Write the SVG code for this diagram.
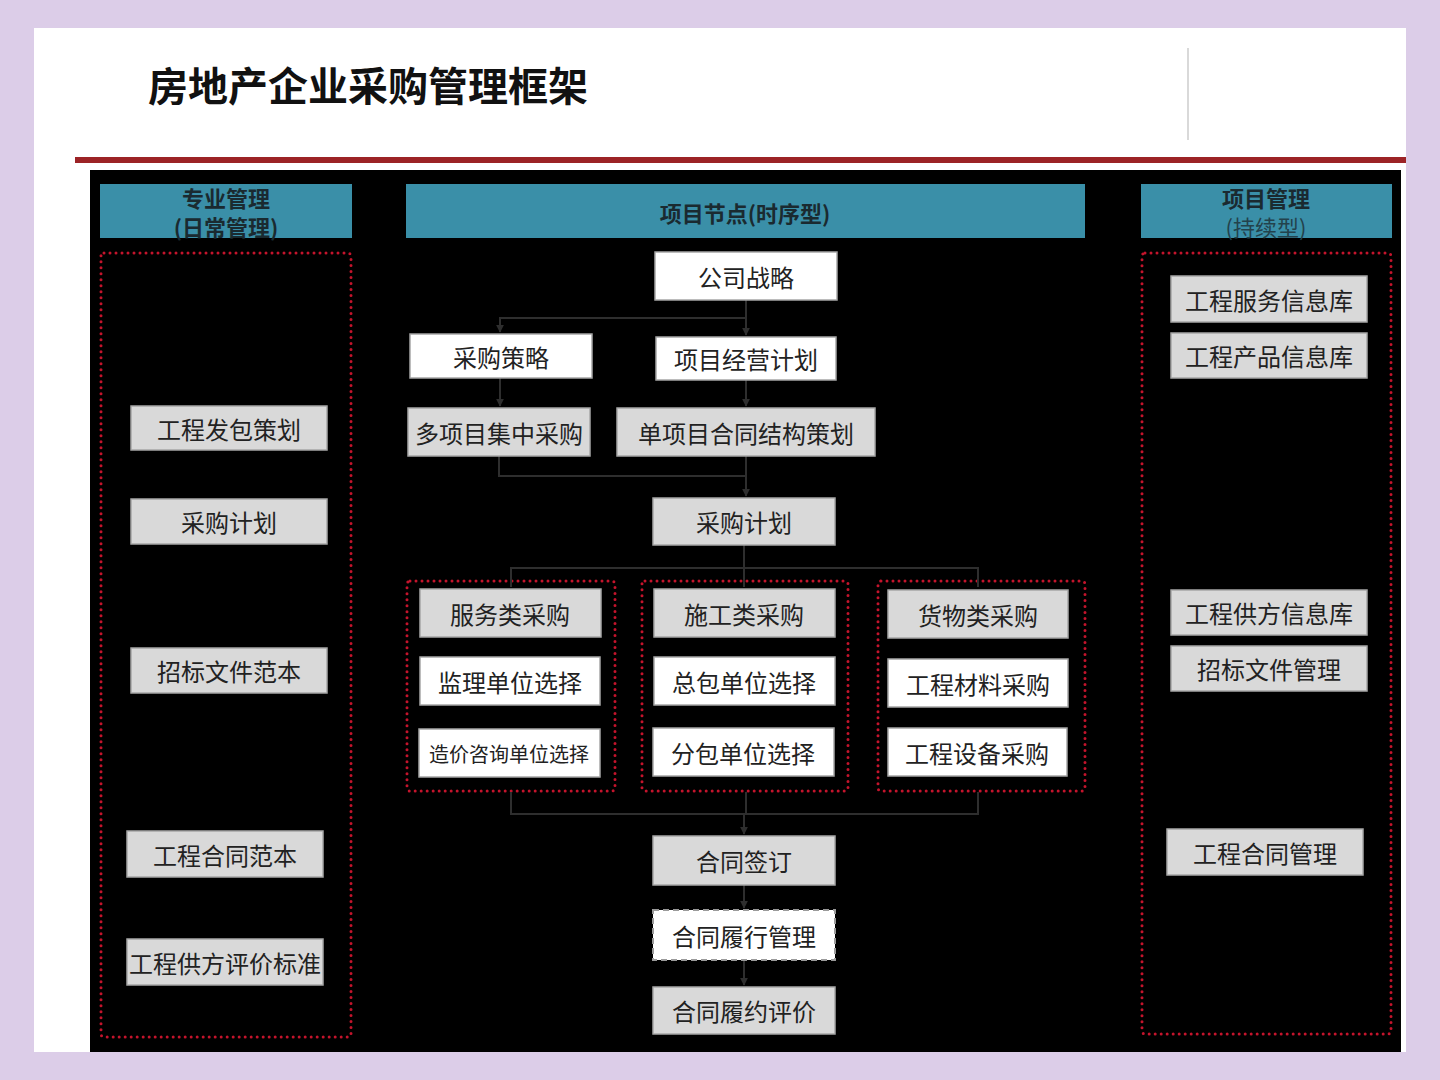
<svg xmlns="http://www.w3.org/2000/svg" width="1440" height="1080" viewBox="0 0 1440 1080">
<defs>
<marker id="arr" viewBox="0 0 10 10" refX="9" refY="5" markerWidth="4" markerHeight="4" orient="auto"><path d="M0,0 L10,5 L0,10 z" fill="#2e2e2e"/></marker>
<style>
.t{font-family:"Noto Sans CJK SC","Noto Sans",sans-serif;fill:#222;font-size:24px;text-anchor:middle;dominant-baseline:central}
.g{fill:#d9d9d9;stroke:#a6a6a6;stroke-width:1.5}
.w{fill:#ffffff;stroke:#a6a6a6;stroke-width:1.5}
.hd{fill:#3a8fa8}
.dot{fill:none;stroke:#c4142c;stroke-width:3;stroke-dasharray:0 6;stroke-linecap:round}
.c{fill:none;stroke:#2e2e2e;stroke-width:2}
.ht{font-family:"Noto Sans CJK SC","Noto Sans",sans-serif;fill:#1a2a30;font-size:22px;font-weight:bold;text-anchor:middle;dominant-baseline:central}
</style>
</defs>
<rect width="1440" height="1080" fill="#dccde8"/>
<rect x="34" y="28" width="1372" height="1024" fill="#ffffff"/>
<text x="148" y="101" font-family="'Noto Sans CJK SC','Noto Sans',sans-serif" font-size="40" font-weight="bold" fill="#111">房地产企业采购管理框架</text>
<line x1="1188" y1="48" x2="1188" y2="140" stroke="#cccccc" stroke-width="1.5"/>
<rect x="75" y="157" width="1331" height="6" fill="#9c2326"/>
<rect x="90" y="170" width="1311" height="882" fill="#000000"/>

<g id="hdr-left"><rect class="hd" x="100" y="184" width="252" height="54"/><text class="ht" x="226" y="197">专业管理</text><text class="ht" x="226" y="226">(日常管理)</text></g>
<g id="hdr-mid"><rect class="hd" x="406" y="184" width="679" height="54"/><text class="ht" x="745" y="212">项目节点(时序型)</text></g>
<g id="hdr-right"><rect class="hd" x="1141" y="184" width="251" height="54"/><text class="ht" x="1266" y="197">项目管理</text><text class="ht" x="1266" y="226" style="font-weight:normal;fill:#23424c">(持续型)</text></g>

<rect class="dot" x="101" y="253" width="250" height="784" rx="3"/>
<rect class="dot" x="1142" y="253" width="249" height="781" rx="3"/>
<rect class="dot" x="407" y="581" width="208" height="210" rx="3"/>
<rect class="dot" x="642" y="581" width="206" height="210" rx="3"/>
<rect class="dot" x="878" y="581" width="207" height="210" rx="3"/>

<g id="connectors">
<path class="c" d="M746,300 V335" marker-end="url(#arr)"/>
<path class="c" d="M746,318 H500 V332" marker-end="url(#arr)"/>
<path class="c" d="M500,378 V406" marker-end="url(#arr)"/>
<path class="c" d="M746,380 V406" marker-end="url(#arr)"/>
<path class="c" d="M499,456 V476 H746"/>
<path class="c" d="M746,456 V496" marker-end="url(#arr)"/>
<path class="c" d="M744,545 V568"/>
<path class="c" d="M511,587 V568 H978 V587"/>
<path class="c" d="M744,568 V587"/>
<path class="c" d="M511,792 V814 H978 V792"/>
<path class="c" d="M746,792 V814"/>
<path class="c" d="M744,814 V834" marker-end="url(#arr)"/>
<path class="c" d="M744,885 V908" marker-end="url(#arr)"/>
<path class="c" d="M744,960 V985" marker-end="url(#arr)"/>
</g>

<g id="l1"><rect class="g" x="131" y="406" width="196" height="44"/><text class="t" x="229" y="428">工程发包策划</text></g>
<g id="l2"><rect class="g" x="131" y="499" width="196" height="45"/><text class="t" x="229" y="521">采购计划</text></g>
<g id="l3"><rect class="g" x="131" y="648" width="196" height="45"/><text class="t" x="229" y="670">招标文件范本</text></g>
<g id="l4"><rect class="g" x="127" y="831" width="196" height="46"/><text class="t" x="225" y="854">工程合同范本</text></g>
<g id="l5"><rect class="g" x="127" y="939" width="196" height="46"/><text class="t" x="225" y="962">工程供方评价标准</text></g>

<g id="m1"><rect class="w" x="655" y="252" width="182" height="48"/><text class="t" x="746" y="276">公司战略</text></g>
<g id="m2"><rect class="w" x="410" y="334" width="182" height="44"/><text class="t" x="501" y="356">采购策略</text></g>
<g id="m3"><rect class="w" x="656" y="337" width="180" height="43"/><text class="t" x="746" y="358">项目经营计划</text></g>
<g id="m4"><rect class="g" x="408" y="408" width="182" height="48"/><text class="t" x="499" y="432">多项目集中采购</text></g>
<g id="m5"><rect class="g" x="617" y="408" width="258" height="48"/><text class="t" x="746" y="432">单项目合同结构策划</text></g>
<g id="m6"><rect class="g" x="653" y="498" width="182" height="47"/><text class="t" x="744" y="521">采购计划</text></g>

<g id="s1"><rect class="g" x="420" y="589" width="181" height="48"/><text class="t" x="510" y="613">服务类采购</text></g>
<g id="s2"><rect class="w" x="420" y="657" width="180" height="48"/><text class="t" x="510" y="681">监理单位选择</text></g>
<g id="s3"><rect class="w" x="419" y="729" width="181" height="48"/><text class="t" x="509" y="753" style="font-size:20px">造价咨询单位选择</text></g>
<g id="c1"><rect class="g" x="654" y="589" width="181" height="48"/><text class="t" x="744" y="613">施工类采购</text></g>
<g id="c2"><rect class="w" x="654" y="657" width="181" height="48"/><text class="t" x="744" y="681">总包单位选择</text></g>
<g id="c3"><rect class="w" x="653" y="728" width="181" height="48"/><text class="t" x="743" y="752">分包单位选择</text></g>
<g id="h1"><rect class="g" x="888" y="590" width="180" height="48"/><text class="t" x="978" y="614">货物类采购</text></g>
<g id="h2"><rect class="w" x="888" y="659" width="180" height="48"/><text class="t" x="978" y="683">工程材料采购</text></g>
<g id="h3"><rect class="w" x="888" y="728" width="179" height="48"/><text class="t" x="977" y="752">工程设备采购</text></g>

<g id="k1"><rect class="g" x="653" y="836" width="182" height="49"/><text class="t" x="744" y="860">合同签订</text></g>
<g id="k2"><rect x="653" y="910" width="182" height="50" fill="#ffffff" stroke="#9a9a9a" stroke-width="2" stroke-dasharray="6 4"/><text class="t" x="744" y="935">合同履行管理</text></g>
<g id="k3"><rect class="g" x="653" y="987" width="182" height="47"/><text class="t" x="744" y="1010">合同履约评价</text></g>

<g id="r1"><rect class="g" x="1171" y="276" width="196" height="46"/><text class="t" x="1269" y="299">工程服务信息库</text></g>
<g id="r2"><rect class="g" x="1171" y="333" width="196" height="45"/><text class="t" x="1269" y="355">工程产品信息库</text></g>
<g id="r3"><rect class="g" x="1171" y="590" width="196" height="45"/><text class="t" x="1269" y="612">工程供方信息库</text></g>
<g id="r4"><rect class="g" x="1171" y="646" width="196" height="45"/><text class="t" x="1269" y="668">招标文件管理</text></g>
<g id="r5"><rect class="g" x="1167" y="829" width="196" height="46"/><text class="t" x="1265" y="852">工程合同管理</text></g>
</svg>
